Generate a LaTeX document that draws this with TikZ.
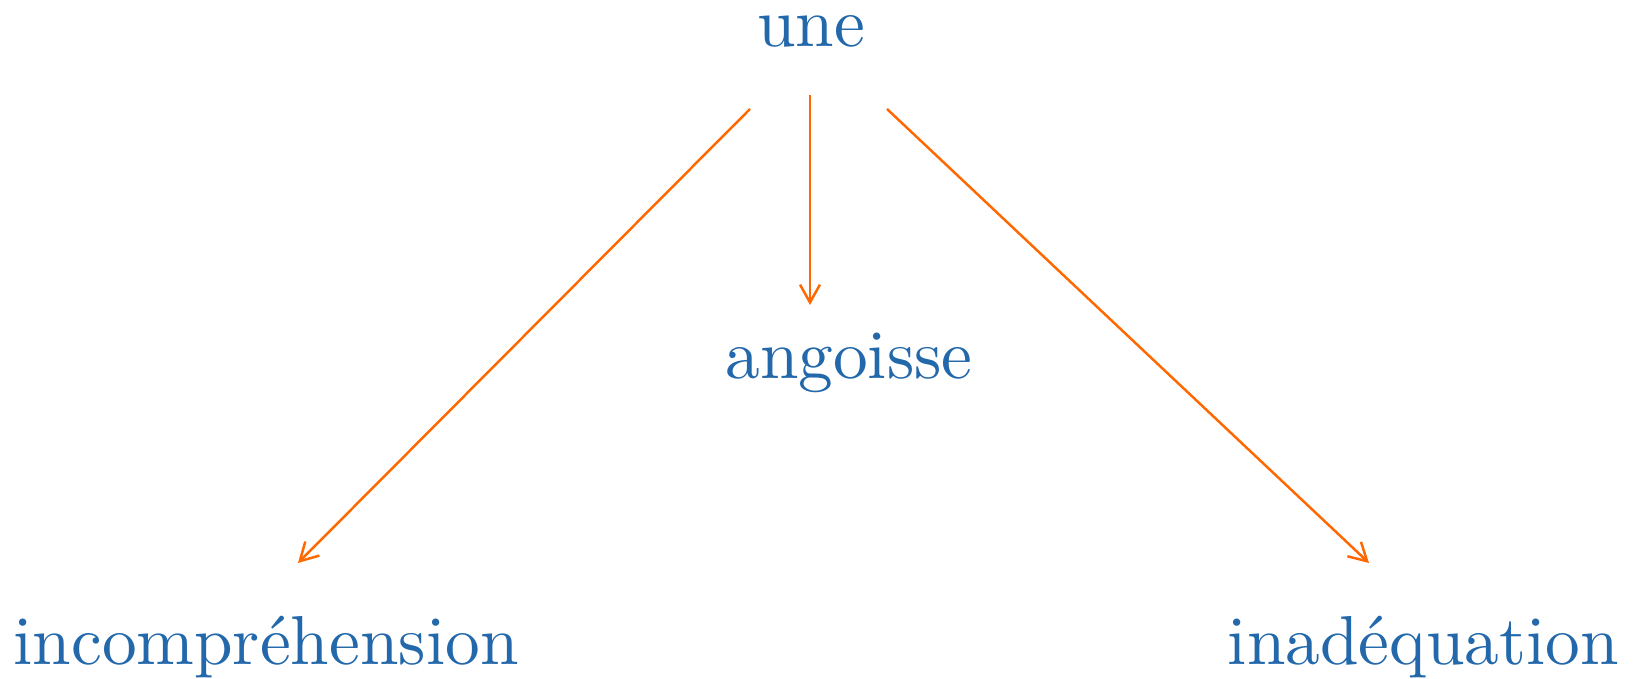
\documentclass[tikz,border=0pt]{standalone}
\usetikzlibrary{calc,arrows.meta}
\definecolor{txtblue}{RGB}{35,104,170}
\definecolor{arrorange}{RGB}{255,104,0}
\begin{document}
\begin{tikzpicture}[x=0.146pt,y=-0.146pt,
  lbl/.style={text=txtblue,anchor=base,inner sep=0pt,font=\fontsize{10.12}{12}\selectfont},
  conn/.style={draw=arrorange,-{Straight Barb[length=2.6pt,width=2.9pt]},line width=0.36pt}]
\useasboundingbox (0,0) rectangle (1634,679);
\node[lbl] (une) at (811,47) {une};
\node[lbl] (ang) at (849,379) {angoisse};
\node[lbl] (inc) at (266,665) {incompréhension};
\node[lbl] (ina) at (1423.5,665) {inadéquation};
\draw[conn] ($(une.base)+(-1,48)$) -- ($(ang.base)+(-39,-74)$);
\draw[conn] ($(une.base)+(-61,62)$) -- ($(inc.base)+(32,-102)$);
\draw[conn] ($(une.base)+(76,62)$) -- ($(ina.base)+(-54.5,-102)$);
\end{tikzpicture}
\end{document}
